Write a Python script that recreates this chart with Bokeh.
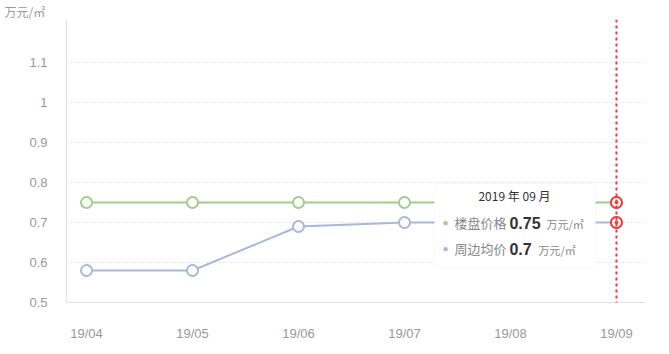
from bokeh.plotting import figure
from bokeh.models import Range1d, FixedTicker, Label, BoxAnnotation, Span, ColumnDataSource, Title
from bokeh.embed import file_html
from bokeh.resources import INLINE

months = ["19/04", "19/05", "19/06", "19/07", "19/08", "19/09"]
project_price = [0.75, 0.75, 0.75, 0.75, 0.75, 0.75]
nearby_price = [0.58, 0.58, 0.69, 0.70, 0.70, 0.70]
y_ticks = [0.5, 0.6, 0.7, 0.8, 0.9, 1.0, 1.1]
y_tick_labels = ["0.5", "0.6", "0.7", "0.8", "0.9", "1", "1.1"]
unit = "万元/㎡"
series_names = ["楼盘价格", "周边均价"]
tooltip_title = "2019 年 09 月"
tooltip_values = ["0.75", "0.7"]

GREEN = "#a3cb8a"
BLUE = "#a9b7dc"
RED = "#f03a3a"
FONT = "Liberation Sans, Noto Sans CJK SC"

xs = list(range(len(months)))
src = ColumnDataSource(dict(x=xs, a=project_price, b=nearby_price))

p = figure(width=669, height=354, output_backend="svg", toolbar_location=None,
           x_range=Range1d(-0.189, 5.274), y_range=Range1d(0.5, 1.2075),
           min_border_left=66, min_border_right=24, min_border_top=0, min_border_bottom=52)
p.outline_line_color = None
p.background_fill_color = "white"
p.border_fill_color = "white"

t = Title(text=unit, align="left", text_font_size="12px", text_font="Noto Sans CJK SC",
          text_color="#999999", text_font_style="normal", offset=-62, standoff=0)
p.add_layout(t, "above")

p.xgrid.grid_line_color = None
p.ygrid.grid_line_color = "#e4e4e4"
p.ygrid.grid_line_dash = "2 2"
p.ygrid.ticker = FixedTicker(ticks=y_ticks[1:])

p.yaxis.ticker = FixedTicker(ticks=y_ticks)
p.yaxis.major_label_overrides = {t: l for t, l in zip(y_ticks, y_tick_labels)}
p.xaxis.ticker = FixedTicker(ticks=xs)
p.xaxis.major_label_overrides = {i: m for i, m in enumerate(months)}
for ax in (p.xaxis, p.yaxis):
    ax.axis_line_color = "#e0e0e0"
    ax.major_tick_line_color = None
    ax.minor_tick_line_color = None
    ax.major_label_text_color = "#999999"
    ax.major_label_text_font_size = "13px"
    ax.major_label_text_font = FONT
p.yaxis.major_label_standoff = 13
p.xaxis.major_label_standoff = 17

p.line("x", "a", source=src, line_color=GREEN, line_width=2)
p.line("x", "b", source=src, line_color=BLUE, line_width=2)
p.scatter("x", "a", source=src, size=11, fill_color="white", line_color=GREEN, line_width=2)
p.scatter("x", "b", source=src, size=11, fill_color="white", line_color=BLUE, line_width=2)

# hover indicator
last = len(months) - 1
p.add_layout(Span(location=last, dimension="height", line_color=RED, line_width=2, line_dash="3 3"))
p.scatter([last, last], [project_price[last], nearby_price[last]], size=11,
          fill_color="white", line_color=RED, line_width=2)
p.scatter([last, last], [project_price[last], nearby_price[last]], size=3,
          fill_color=RED, line_color=RED)

# tooltip
def px(v):
    return (v - 86) / 106
def py(v):
    return 0.5 + (302 - v) / 400

p.add_layout(BoxAnnotation(left=px(434), right=px(595), top=py(183), bottom=py(267),
                           fill_color="white", fill_alpha=1.0, line_color="#e8e8e8",
                           line_width=1, border_radius=4, level="overlay"))
p.add_layout(Label(x=px(514), y=py(195), text=tooltip_title, text_align="center",
                   text_baseline="middle", text_color="#333333", text_font_size="12px",
                   text_font="Noto Sans CJK SC", level="overlay"))
rows_y = [222, 248]
colors = [GREEN, BLUE]
unit_x = [546, 538]
for i in range(2):
    p.add_layout(Label(x=px(442), y=py(rows_y[i]), text="●", text_baseline="middle",
                       text_color=colors[i], text_font_size="10px", level="overlay"))
    p.add_layout(Label(x=px(454), y=py(rows_y[i]), text=series_names[i], text_baseline="middle",
                       text_color="#888888", text_font_size="13px", text_font="Noto Sans CJK SC",
                       level="overlay"))
    p.add_layout(Label(x=px(509), y=py(rows_y[i]), text=tooltip_values[i], text_baseline="middle",
                       text_color="#333333", text_font_size="16px", text_font_style="bold",
                       text_font="Liberation Sans", level="overlay"))
    p.add_layout(Label(x=px(unit_x[i]), y=py(rows_y[i] + 1), text=unit, text_baseline="middle",
                       text_color="#888888", text_font_size="11px", text_font="Noto Sans CJK SC",
                       level="overlay"))

open("out.html", "w").write(file_html(p, INLINE))
